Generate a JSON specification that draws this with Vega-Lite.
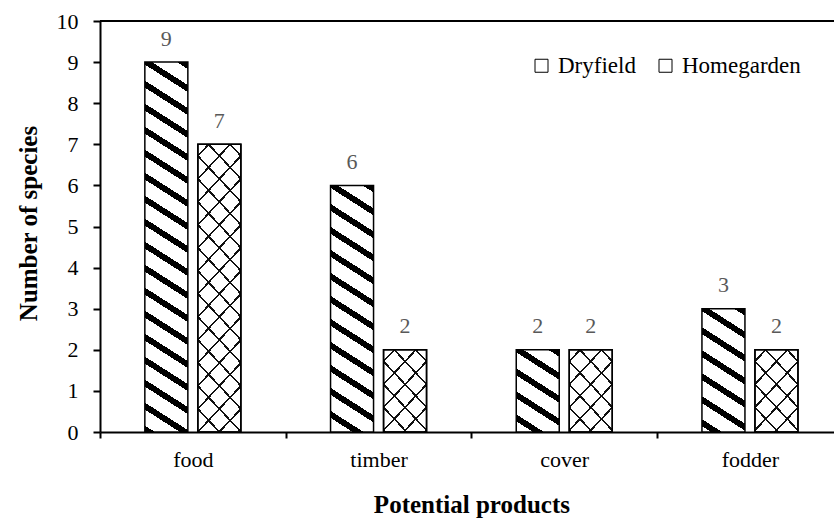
{
  "$schema": "https://vega.github.io/schema/vega-lite/v6.json",
  "width": 734,
  "height": 411,
  "autosize": {"type": "none"},
  "padding": {"left": 100, "top": 21, "right": 0, "bottom": 86},
  "background": "white",
  "config": {"view": {"stroke": null}, "font": "Liberation Serif"},
  "data": {
    "values": [
      {"product": "food", "type": "Dryfield", "value": 9},
      {"product": "food", "type": "Homegarden", "value": 7},
      {"product": "timber", "type": "Dryfield", "value": 6},
      {"product": "timber", "type": "Homegarden", "value": 2},
      {"product": "cover", "type": "Dryfield", "value": 2},
      {"product": "cover", "type": "Homegarden", "value": 2},
      {"product": "fodder", "type": "Dryfield", "value": 3},
      {"product": "fodder", "type": "Homegarden", "value": 2}
    ]
  },
  "encoding": {
    "x": {
      "field": "product", "type": "nominal",
      "sort": ["food", "timber", "cover", "fodder"],
      "scale": {"range": [0, 742.8], "paddingInner": 0, "paddingOuter": 0},
      "axis": {
        "title": "Potential products", "titleFont": "Liberation Serif", "titleFontSize": 25, "titleFontWeight": "bold", "titleColor": "black",
        "titleY": 72, "titleBaseline": "middle",
        "labelFont": "Liberation Serif", "labelFontSize": 22, "labelColor": "black", "labelAngle": 0, "labelPadding": 11,
        "tickBand": "extent", "tickSize": 6, "tickWidth": 2, "tickColor": "black",
        "domainColor": "black", "domainWidth": 2, "grid": false
      }
    },
    "xOffset": {
      "field": "type", "type": "nominal",
      "scale": {"domain": ["Dryfield", "Homegarden"], "paddingInner": 0.1887, "paddingOuter": 0.846}
    },
    "y": {
      "field": "value", "type": "quantitative",
      "scale": {"domain": [0, 10], "nice": false},
      "axis": {
        "title": "Number of species", "titleFont": "Liberation Serif", "titleFontSize": 25, "titleFontWeight": "bold", "titleColor": "black",
        "titleAngle": 270, "titleX": -72, "titleY": 202, "titleAlign": "center", "titleBaseline": "middle",
        "values": [0, 1, 2, 3, 4, 5, 6, 7, 8, 9, 10],
        "labelFont": "Liberation Serif", "labelFontSize": 22, "labelColor": "black", "labelPadding": 15,
        "tickSize": 7, "tickWidth": 2, "tickColor": "black",
        "domainColor": "black", "domainWidth": 2, "grid": false
      }
    }
  },
  "layer": [
    {
      "mark": {"type": "bar", "strokeWidth": 1.5},
      "encoding": {
        "stroke": {
          "field": "type", "type": "nominal",
          "scale": {"domain": ["Dryfield", "Homegarden"], "range": ["black", "black"]},
          "legend": {
            "title": null, "orient": "none", "legendX": 430, "legendY": 33, "direction": "horizontal",
            "symbolType": "square", "symbolSize": 169, "symbolStrokeWidth": 1,
            "labelFont": "Liberation Serif", "labelFontSize": 23, "labelColor": "black", "labelOffset": 5,
            "columnPadding": 18, "padding": 0,
            "encode": {"symbols": {"update": {
              "fill": [
                {"test": "datum.value === 'Dryfield'", "value": {"gradient": "linear", "x1": 1, "y1": 0, "x2": 0.0001, "y2": 1, "stops": [{"offset": 0, "color": "white"}, {"offset": 0.3, "color": "white"}, {"offset": 0.3, "color": "black"}, {"offset": 0.6, "color": "black"}, {"offset": 0.6, "color": "white"}, {"offset": 1, "color": "white"}]}},
                {"value": "white"}
              ]
            }}}
          }
        },
        "fill": {
          "condition": [
            {"test": "datum.type === 'Dryfield' && datum.value === 9", "value": {"gradient": "linear", "x1": 1, "y1": 0, "x2": 0.91719, "y2": 1.11307, "stops": [{"offset":0,"color":"black"},{"offset":0.0169,"color":"black"},{"offset":0.0169,"color":"white"},{"offset":0.05556,"color":"white"},{"offset":0.05556,"color":"black"},{"offset":0.07246,"color":"black"},{"offset":0.07246,"color":"white"},{"offset":0.11111,"color":"white"},{"offset":0.11111,"color":"black"},{"offset":0.12802,"color":"black"},{"offset":0.12802,"color":"white"},{"offset":0.16667,"color":"white"},{"offset":0.16667,"color":"black"},{"offset":0.18357,"color":"black"},{"offset":0.18357,"color":"white"},{"offset":0.22222,"color":"white"},{"offset":0.22222,"color":"black"},{"offset":0.23913,"color":"black"},{"offset":0.23913,"color":"white"},{"offset":0.27778,"color":"white"},{"offset":0.27778,"color":"black"},{"offset":0.29469,"color":"black"},{"offset":0.29469,"color":"white"},{"offset":0.33333,"color":"white"},{"offset":0.33333,"color":"black"},{"offset":0.35024,"color":"black"},{"offset":0.35024,"color":"white"},{"offset":0.38889,"color":"white"},{"offset":0.38889,"color":"black"},{"offset":0.4058,"color":"black"},{"offset":0.4058,"color":"white"},{"offset":0.44444,"color":"white"},{"offset":0.44444,"color":"black"},{"offset":0.46135,"color":"black"},{"offset":0.46135,"color":"white"},{"offset":0.5,"color":"white"},{"offset":0.5,"color":"black"},{"offset":0.51691,"color":"black"},{"offset":0.51691,"color":"white"},{"offset":0.55556,"color":"white"},{"offset":0.55556,"color":"black"},{"offset":0.57246,"color":"black"},{"offset":0.57246,"color":"white"},{"offset":0.61111,"color":"white"},{"offset":0.61111,"color":"black"},{"offset":0.62802,"color":"black"},{"offset":0.62802,"color":"white"},{"offset":0.66667,"color":"white"},{"offset":0.66667,"color":"black"},{"offset":0.68357,"color":"black"},{"offset":0.68357,"color":"white"},{"offset":0.72222,"color":"white"},{"offset":0.72222,"color":"black"},{"offset":0.73913,"color":"black"},{"offset":0.73913,"color":"white"},{"offset":0.77778,"color":"white"},{"offset":0.77778,"color":"black"},{"offset":0.79469,"color":"black"},{"offset":0.79469,"color":"white"},{"offset":0.83333,"color":"white"},{"offset":0.83333,"color":"black"},{"offset":0.85024,"color":"black"},{"offset":0.85024,"color":"white"},{"offset":0.88889,"color":"white"},{"offset":0.88889,"color":"black"},{"offset":0.9058,"color":"black"},{"offset":0.9058,"color":"white"},{"offset":0.94444,"color":"white"},{"offset":0.94444,"color":"black"},{"offset":0.96135,"color":"black"},{"offset":0.96135,"color":"white"},{"offset":1,"color":"white"}]}},
            {"test": "datum.type === 'Dryfield' && datum.value === 6", "value": {"gradient": "linear", "x1": 1, "y1": 0, "x2": 0.81495, "y2": 1.65816, "stops": [{"offset":0,"color":"black"},{"offset":0.0169,"color":"black"},{"offset":0.0169,"color":"white"},{"offset":0.05556,"color":"white"},{"offset":0.05556,"color":"black"},{"offset":0.07246,"color":"black"},{"offset":0.07246,"color":"white"},{"offset":0.11111,"color":"white"},{"offset":0.11111,"color":"black"},{"offset":0.12802,"color":"black"},{"offset":0.12802,"color":"white"},{"offset":0.16667,"color":"white"},{"offset":0.16667,"color":"black"},{"offset":0.18357,"color":"black"},{"offset":0.18357,"color":"white"},{"offset":0.22222,"color":"white"},{"offset":0.22222,"color":"black"},{"offset":0.23913,"color":"black"},{"offset":0.23913,"color":"white"},{"offset":0.27778,"color":"white"},{"offset":0.27778,"color":"black"},{"offset":0.29469,"color":"black"},{"offset":0.29469,"color":"white"},{"offset":0.33333,"color":"white"},{"offset":0.33333,"color":"black"},{"offset":0.35024,"color":"black"},{"offset":0.35024,"color":"white"},{"offset":0.38889,"color":"white"},{"offset":0.38889,"color":"black"},{"offset":0.4058,"color":"black"},{"offset":0.4058,"color":"white"},{"offset":0.44444,"color":"white"},{"offset":0.44444,"color":"black"},{"offset":0.46135,"color":"black"},{"offset":0.46135,"color":"white"},{"offset":0.5,"color":"white"},{"offset":0.5,"color":"black"},{"offset":0.51691,"color":"black"},{"offset":0.51691,"color":"white"},{"offset":0.55556,"color":"white"},{"offset":0.55556,"color":"black"},{"offset":0.57246,"color":"black"},{"offset":0.57246,"color":"white"},{"offset":0.61111,"color":"white"},{"offset":0.61111,"color":"black"},{"offset":0.62802,"color":"black"},{"offset":0.62802,"color":"white"},{"offset":0.66667,"color":"white"},{"offset":0.66667,"color":"black"},{"offset":0.68357,"color":"black"},{"offset":0.68357,"color":"white"},{"offset":0.72222,"color":"white"},{"offset":0.72222,"color":"black"},{"offset":0.73913,"color":"black"},{"offset":0.73913,"color":"white"},{"offset":0.77778,"color":"white"},{"offset":0.77778,"color":"black"},{"offset":0.79469,"color":"black"},{"offset":0.79469,"color":"white"},{"offset":0.83333,"color":"white"},{"offset":0.83333,"color":"black"},{"offset":0.85024,"color":"black"},{"offset":0.85024,"color":"white"},{"offset":0.88889,"color":"white"},{"offset":0.88889,"color":"black"},{"offset":0.9058,"color":"black"},{"offset":0.9058,"color":"white"},{"offset":0.94444,"color":"white"},{"offset":0.94444,"color":"black"},{"offset":0.96135,"color":"black"},{"offset":0.96135,"color":"white"},{"offset":1,"color":"white"}]}},
            {"test": "datum.type === 'Dryfield' && datum.value === 3", "value": {"gradient": "linear", "x1": 1, "y1": 0, "x2": 0.28613, "y2": 3.1984, "stops": [{"offset":0,"color":"black"},{"offset":0.0169,"color":"black"},{"offset":0.0169,"color":"white"},{"offset":0.05556,"color":"white"},{"offset":0.05556,"color":"black"},{"offset":0.07246,"color":"black"},{"offset":0.07246,"color":"white"},{"offset":0.11111,"color":"white"},{"offset":0.11111,"color":"black"},{"offset":0.12802,"color":"black"},{"offset":0.12802,"color":"white"},{"offset":0.16667,"color":"white"},{"offset":0.16667,"color":"black"},{"offset":0.18357,"color":"black"},{"offset":0.18357,"color":"white"},{"offset":0.22222,"color":"white"},{"offset":0.22222,"color":"black"},{"offset":0.23913,"color":"black"},{"offset":0.23913,"color":"white"},{"offset":0.27778,"color":"white"},{"offset":0.27778,"color":"black"},{"offset":0.29469,"color":"black"},{"offset":0.29469,"color":"white"},{"offset":0.33333,"color":"white"},{"offset":0.33333,"color":"black"},{"offset":0.35024,"color":"black"},{"offset":0.35024,"color":"white"},{"offset":0.38889,"color":"white"},{"offset":0.38889,"color":"black"},{"offset":0.4058,"color":"black"},{"offset":0.4058,"color":"white"},{"offset":1,"color":"white"}]}},
            {"test": "datum.type === 'Dryfield' && datum.value === 2", "value": {"gradient": "linear", "x1": 1, "y1": 0, "x2": -0.51624, "y2": 4.52889, "stops": [{"offset":0,"color":"black"},{"offset":0.0169,"color":"black"},{"offset":0.0169,"color":"white"},{"offset":0.05556,"color":"white"},{"offset":0.05556,"color":"black"},{"offset":0.07246,"color":"black"},{"offset":0.07246,"color":"white"},{"offset":0.11111,"color":"white"},{"offset":0.11111,"color":"black"},{"offset":0.12802,"color":"black"},{"offset":0.12802,"color":"white"},{"offset":0.16667,"color":"white"},{"offset":0.16667,"color":"black"},{"offset":0.18357,"color":"black"},{"offset":0.18357,"color":"white"},{"offset":0.22222,"color":"white"},{"offset":0.22222,"color":"black"},{"offset":0.23913,"color":"black"},{"offset":0.23913,"color":"white"},{"offset":0.27778,"color":"white"},{"offset":0.27778,"color":"black"},{"offset":0.29469,"color":"black"},{"offset":0.29469,"color":"white"},{"offset":1,"color":"white"}]}},
            {"test": "datum.type === 'Homegarden' && datum.value === 7", "value": {"gradient": "linear", "x1": 0, "y1": 0, "x2": 0.187, "y2": 1.16927, "stops": [{"offset":0,"color":"white"},{"offset":0.03,"color":"white"},{"offset":0.03,"color":"#111"},{"offset":0.037,"color":"#111"},{"offset":0.037,"color":"white"},{"offset":0.09667,"color":"white"},{"offset":0.09667,"color":"#111"},{"offset":0.10367,"color":"#111"},{"offset":0.10367,"color":"white"},{"offset":0.16333,"color":"white"},{"offset":0.16333,"color":"#111"},{"offset":0.17033,"color":"#111"},{"offset":0.17033,"color":"white"},{"offset":0.23,"color":"white"},{"offset":0.23,"color":"#111"},{"offset":0.237,"color":"#111"},{"offset":0.237,"color":"white"},{"offset":0.29667,"color":"white"},{"offset":0.29667,"color":"#111"},{"offset":0.30367,"color":"#111"},{"offset":0.30367,"color":"white"},{"offset":0.36333,"color":"white"},{"offset":0.36333,"color":"#111"},{"offset":0.37033,"color":"#111"},{"offset":0.37033,"color":"white"},{"offset":0.43,"color":"white"},{"offset":0.43,"color":"#111"},{"offset":0.437,"color":"#111"},{"offset":0.437,"color":"white"},{"offset":0.49667,"color":"white"},{"offset":0.49667,"color":"#111"},{"offset":0.50367,"color":"#111"},{"offset":0.50367,"color":"white"},{"offset":0.56333,"color":"white"},{"offset":0.56333,"color":"#111"},{"offset":0.57033,"color":"#111"},{"offset":0.57033,"color":"white"},{"offset":0.63,"color":"white"},{"offset":0.63,"color":"#111"},{"offset":0.637,"color":"#111"},{"offset":0.637,"color":"white"},{"offset":0.69667,"color":"white"},{"offset":0.69667,"color":"#111"},{"offset":0.70367,"color":"#111"},{"offset":0.70367,"color":"white"},{"offset":0.76333,"color":"white"},{"offset":0.76333,"color":"#111"},{"offset":0.77033,"color":"#111"},{"offset":0.77033,"color":"white"},{"offset":0.83,"color":"white"},{"offset":0.83,"color":"#111"},{"offset":0.837,"color":"#111"},{"offset":0.837,"color":"white"},{"offset":0.89667,"color":"white"},{"offset":0.89667,"color":"#111"},{"offset":0.90367,"color":"#111"},{"offset":0.90367,"color":"white"},{"offset":0.96333,"color":"white"},{"offset":0.96333,"color":"#111"},{"offset":0.97033,"color":"#111"},{"offset":0.97033,"color":"white"},{"offset":1,"color":"white"}]}},
            {"test": "datum.type === 'Homegarden' && datum.value === 2", "value": {"gradient": "linear", "x1": 0, "y1": 0, "x2": 1.78882, "y2": 3.19585, "stops": [{"offset":0,"color":"white"},{"offset":0.03,"color":"white"},{"offset":0.03,"color":"#111"},{"offset":0.037,"color":"#111"},{"offset":0.037,"color":"white"},{"offset":0.09667,"color":"white"},{"offset":0.09667,"color":"#111"},{"offset":0.10367,"color":"#111"},{"offset":0.10367,"color":"white"},{"offset":0.16333,"color":"white"},{"offset":0.16333,"color":"#111"},{"offset":0.17033,"color":"#111"},{"offset":0.17033,"color":"white"},{"offset":0.23,"color":"white"},{"offset":0.23,"color":"#111"},{"offset":0.237,"color":"#111"},{"offset":0.237,"color":"white"},{"offset":0.29667,"color":"white"},{"offset":0.29667,"color":"#111"},{"offset":0.30367,"color":"#111"},{"offset":0.30367,"color":"white"},{"offset":0.36333,"color":"white"},{"offset":0.36333,"color":"#111"},{"offset":0.37033,"color":"#111"},{"offset":0.37033,"color":"white"},{"offset":1,"color":"white"}]}}
          ],
          "value": "white"
        }
      }
    },
    {
      "transform": [{"filter": "datum.type === 'Homegarden'"}],
      "mark": {"type": "bar", "stroke": "black", "strokeWidth": 1.5},
      "encoding": {
        "fill": {
          "condition": {"test": "datum.value === 7", "value": {"gradient": "linear", "x1": 1, "y1": 0, "x2": 0.813, "y2": 1.16927, "stops": [{"offset":0,"color":"rgba(255,255,255,0)"},{"offset":0.03,"color":"rgba(255,255,255,0)"},{"offset":0.03,"color":"#111"},{"offset":0.037,"color":"#111"},{"offset":0.037,"color":"rgba(255,255,255,0)"},{"offset":0.09667,"color":"rgba(255,255,255,0)"},{"offset":0.09667,"color":"#111"},{"offset":0.10367,"color":"#111"},{"offset":0.10367,"color":"rgba(255,255,255,0)"},{"offset":0.16333,"color":"rgba(255,255,255,0)"},{"offset":0.16333,"color":"#111"},{"offset":0.17033,"color":"#111"},{"offset":0.17033,"color":"rgba(255,255,255,0)"},{"offset":0.23,"color":"rgba(255,255,255,0)"},{"offset":0.23,"color":"#111"},{"offset":0.237,"color":"#111"},{"offset":0.237,"color":"rgba(255,255,255,0)"},{"offset":0.29667,"color":"rgba(255,255,255,0)"},{"offset":0.29667,"color":"#111"},{"offset":0.30367,"color":"#111"},{"offset":0.30367,"color":"rgba(255,255,255,0)"},{"offset":0.36333,"color":"rgba(255,255,255,0)"},{"offset":0.36333,"color":"#111"},{"offset":0.37033,"color":"#111"},{"offset":0.37033,"color":"rgba(255,255,255,0)"},{"offset":0.43,"color":"rgba(255,255,255,0)"},{"offset":0.43,"color":"#111"},{"offset":0.437,"color":"#111"},{"offset":0.437,"color":"rgba(255,255,255,0)"},{"offset":0.49667,"color":"rgba(255,255,255,0)"},{"offset":0.49667,"color":"#111"},{"offset":0.50367,"color":"#111"},{"offset":0.50367,"color":"rgba(255,255,255,0)"},{"offset":0.56333,"color":"rgba(255,255,255,0)"},{"offset":0.56333,"color":"#111"},{"offset":0.57033,"color":"#111"},{"offset":0.57033,"color":"rgba(255,255,255,0)"},{"offset":0.63,"color":"rgba(255,255,255,0)"},{"offset":0.63,"color":"#111"},{"offset":0.637,"color":"#111"},{"offset":0.637,"color":"rgba(255,255,255,0)"},{"offset":0.69667,"color":"rgba(255,255,255,0)"},{"offset":0.69667,"color":"#111"},{"offset":0.70367,"color":"#111"},{"offset":0.70367,"color":"rgba(255,255,255,0)"},{"offset":0.76333,"color":"rgba(255,255,255,0)"},{"offset":0.76333,"color":"#111"},{"offset":0.77033,"color":"#111"},{"offset":0.77033,"color":"rgba(255,255,255,0)"},{"offset":0.83,"color":"rgba(255,255,255,0)"},{"offset":0.83,"color":"#111"},{"offset":0.837,"color":"#111"},{"offset":0.837,"color":"rgba(255,255,255,0)"},{"offset":0.89667,"color":"rgba(255,255,255,0)"},{"offset":0.89667,"color":"#111"},{"offset":0.90367,"color":"#111"},{"offset":0.90367,"color":"rgba(255,255,255,0)"},{"offset":0.96333,"color":"rgba(255,255,255,0)"},{"offset":0.96333,"color":"#111"},{"offset":0.97033,"color":"#111"},{"offset":0.97033,"color":"rgba(255,255,255,0)"},{"offset":1,"color":"rgba(255,255,255,0)"}]}},
          "value": {"gradient": "linear", "x1": 1, "y1": 0, "x2": -0.78882, "y2": 3.19585, "stops": [{"offset":0,"color":"rgba(255,255,255,0)"},{"offset":0.03,"color":"rgba(255,255,255,0)"},{"offset":0.03,"color":"#111"},{"offset":0.037,"color":"#111"},{"offset":0.037,"color":"rgba(255,255,255,0)"},{"offset":0.09667,"color":"rgba(255,255,255,0)"},{"offset":0.09667,"color":"#111"},{"offset":0.10367,"color":"#111"},{"offset":0.10367,"color":"rgba(255,255,255,0)"},{"offset":0.16333,"color":"rgba(255,255,255,0)"},{"offset":0.16333,"color":"#111"},{"offset":0.17033,"color":"#111"},{"offset":0.17033,"color":"rgba(255,255,255,0)"},{"offset":0.23,"color":"rgba(255,255,255,0)"},{"offset":0.23,"color":"#111"},{"offset":0.237,"color":"#111"},{"offset":0.237,"color":"rgba(255,255,255,0)"},{"offset":0.29667,"color":"rgba(255,255,255,0)"},{"offset":0.29667,"color":"#111"},{"offset":0.30367,"color":"#111"},{"offset":0.30367,"color":"rgba(255,255,255,0)"},{"offset":0.36333,"color":"rgba(255,255,255,0)"},{"offset":0.36333,"color":"#111"},{"offset":0.37033,"color":"#111"},{"offset":0.37033,"color":"rgba(255,255,255,0)"},{"offset":1,"color":"rgba(255,255,255,0)"}]}
        }
      }
    },
    {
      "mark": {"type": "text", "baseline": "middle", "dy": -23.5, "font": "Liberation Serif", "fontSize": 22, "color": "#595959"},
      "encoding": {"text": {"field": "value", "type": "quantitative"}}
    },
    {
      "mark": {"type": "rule", "color": "black", "strokeWidth": 2},
      "encoding": {"y": {"datum": 10}, "x": null, "xOffset": null}
    }
  ]
}
